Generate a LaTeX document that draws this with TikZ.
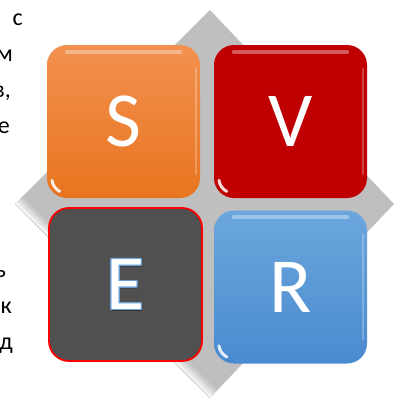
\documentclass[tikz,border=0pt]{standalone}
\usepackage{fontspec}
\setmainfont{Carlito}
\usetikzlibrary{positioning}

\definecolor{diamondgray}{HTML}{BFBFBF}
\definecolor{orangetop}{HTML}{F2914F}
\definecolor{orangebot}{HTML}{E8741F}
\definecolor{vred}{HTML}{C00000}
\definecolor{edark}{HTML}{505050}
\definecolor{bluetop}{HTML}{6BA7DD}
\definecolor{bluebot}{HTML}{4A8ACF}
\definecolor{eblue}{HTML}{6A9FD3}

\tikzset{
  tile/.style={rounded corners=20pt, minimum width=153pt, minimum height=153pt,
    inner sep=0pt, text=white, font=\fontsize{78}{78}\selectfont},
  bigletter/.style={inner sep=0pt, font=\fontsize{78}{78}\selectfont},
  sidetext/.style={anchor=base east, inner sep=0pt, font=\fontsize{24}{30}\selectfont}
}

% glass highlights on a tile
\newcommand\glassy[1]{
  \draw[white, opacity=0.35, line width=4pt, line cap=round]
    ([xshift=20pt,yshift=-7pt]#1.north west) -- ([xshift=-20pt,yshift=-7pt]#1.north east);
  \draw[white, opacity=0.25, line width=1.5pt, line cap=round]
    ([xshift=-4pt,yshift=-24pt]#1.north east) -- ([xshift=-4pt,yshift=24pt]#1.south east);
  \draw[white, opacity=0.85, line width=3pt, line cap=round]
    ([xshift=20pt,yshift=20pt]#1.south west) ++(172:15) arc[start angle=172, end angle=118, radius=15];
}

\begin{document}
\begin{tikzpicture}[x=1pt,y=-1pt]
\useasboundingbox (0,0) rectangle (396,399);
\clip (0,0) rectangle (396,399);

% text lines cut by the picture
\node[sidetext] (t1) at (23,25) {с};
\node[sidetext] (t2) at (13,61) {м};
\node[sidetext] (t3) at (11,97) {в,};
\node[sidetext] (t4) at (10,133) {е};
\node[sidetext] (t5) at (6,277) {ь};
\node[sidetext] (t6) at (12,313) {к};
\node[sidetext] (t7) at (13,349) {д};

% gray diamond
\fill[diamondgray] (210,10) -- (394,204) -- (210,398) -- (15,204) -- cycle;
\begin{scope}
  \clip (210,10) -- (394,204) -- (210,398) -- (15,204) -- cycle;
  \foreach \d in {0,...,9}{
    \pgfmathtruncatemacro\p{100-10*\d}
    \draw[line width=1.3pt, white!\p!diamondgray] (15+0.8*\d,204-0.8*\d) -- (210+0.8*\d,398-0.8*\d);
  }
\end{scope}
\draw[gray!45, line width=0.6pt] (15,204) -- (210,398);

% tiles
\node[tile, top color=orangetop, bottom color=orangebot] (s) at (123.5,121.5) {S};
\node[tile, fill=vred] (v) at (290.5,121.5) {V};
\node[tile, fill=edark, draw=red, line width=1.8pt] (e) at (125.5,284.5) {};
\node[tile, top color=bluetop, bottom color=bluebot] (r) at (290.5,287) {R};
\glassy{s}
\glassy{v}
\glassy{r}

% outlined letter E
\node[bigletter, text=black, opacity=0.35] at ([xshift=1.5pt,yshift=-1.5pt]e.center) {E};
\foreach \a in {0,30,...,330}
  \node[bigletter, text=eblue] at ([shift={(\a:1.4pt)}]e.center) {E};
\node[bigletter, text=white] (eletter) at (e.center) {E};
\end{tikzpicture}
\end{document}
